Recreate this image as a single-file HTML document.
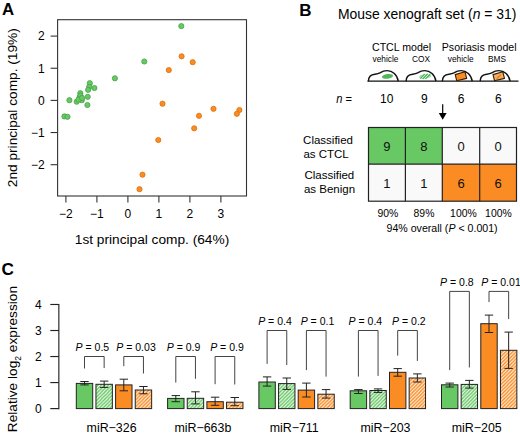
<!DOCTYPE html>
<html><head><meta charset="utf-8"><style>
html,body{margin:0;padding:0;background:#fff;overflow:hidden;}
svg{display:block;font-family:"Liberation Sans", sans-serif;}
</style></head><body>
<svg width="520" height="433" viewBox="0 0 520 433">
<defs>
<pattern id="hg" patternUnits="userSpaceOnUse" width="3.5" height="3.5">
<rect width="3.5" height="3.5" fill="#fff"/>
<path d="M-0.875,0.875 L0.875,-0.875 M0,3.5 L3.5,0 M2.625,4.375 L4.375,2.625" stroke="#68C864" stroke-width="1.4"/>
</pattern>
<pattern id="ho" patternUnits="userSpaceOnUse" width="3.5" height="3.5">
<rect width="3.5" height="3.5" fill="#fff"/>
<path d="M-0.875,0.875 L0.875,-0.875 M0,3.5 L3.5,0 M2.625,4.375 L4.375,2.625" stroke="#FA8C23" stroke-width="1.45"/>
</pattern>
</defs>
<rect width="520" height="433" fill="#fff"/>
<text x="1.9" y="15.3" font-size="16.8" text-anchor="start" font-weight="bold" fill="#000" >A</text>
<rect x="57.6" y="19.7" width="188.9" height="176.3" fill="none" stroke="#333" stroke-width="1.1"/>
<line x1="50.6" y1="164.70" x2="57.6" y2="164.70" stroke="#333" stroke-width="1.1"/>
<text x="44.6" y="169.0" font-size="12" text-anchor="end" font-weight="normal" fill="#000" >&#8722;2</text>
<line x1="50.6" y1="132.55" x2="57.6" y2="132.55" stroke="#333" stroke-width="1.1"/>
<text x="44.6" y="136.85000000000002" font-size="12" text-anchor="end" font-weight="normal" fill="#000" >&#8722;1</text>
<line x1="50.6" y1="100.40" x2="57.6" y2="100.40" stroke="#333" stroke-width="1.1"/>
<text x="44.6" y="104.7" font-size="12" text-anchor="end" font-weight="normal" fill="#000" >0</text>
<line x1="50.6" y1="68.25" x2="57.6" y2="68.25" stroke="#333" stroke-width="1.1"/>
<text x="44.6" y="72.55" font-size="12" text-anchor="end" font-weight="normal" fill="#000" >1</text>
<line x1="50.6" y1="36.10" x2="57.6" y2="36.10" stroke="#333" stroke-width="1.1"/>
<text x="44.6" y="40.400000000000006" font-size="12" text-anchor="end" font-weight="normal" fill="#000" >2</text>
<line x1="65.90" y1="196" x2="65.90" y2="202.5" stroke="#333" stroke-width="1.1"/>
<text x="65.9" y="218.4" font-size="12" text-anchor="middle" font-weight="normal" fill="#000" >&#8722;2</text>
<line x1="96.90" y1="196" x2="96.90" y2="202.5" stroke="#333" stroke-width="1.1"/>
<text x="96.9" y="218.4" font-size="12" text-anchor="middle" font-weight="normal" fill="#000" >&#8722;1</text>
<line x1="127.90" y1="196" x2="127.90" y2="202.5" stroke="#333" stroke-width="1.1"/>
<text x="127.9" y="218.4" font-size="12" text-anchor="middle" font-weight="normal" fill="#000" >0</text>
<line x1="158.90" y1="196" x2="158.90" y2="202.5" stroke="#333" stroke-width="1.1"/>
<text x="158.9" y="218.4" font-size="12" text-anchor="middle" font-weight="normal" fill="#000" >1</text>
<line x1="189.90" y1="196" x2="189.90" y2="202.5" stroke="#333" stroke-width="1.1"/>
<text x="189.9" y="218.4" font-size="12" text-anchor="middle" font-weight="normal" fill="#000" >2</text>
<line x1="220.90" y1="196" x2="220.90" y2="202.5" stroke="#333" stroke-width="1.1"/>
<text x="220.9" y="218.4" font-size="12" text-anchor="middle" font-weight="normal" fill="#000" >3</text>
<text x="152.0" y="244" font-size="13.7" text-anchor="middle" font-weight="normal" fill="#000" >1st principal comp. (64%)</text>
<text x="0" y="0" font-size="13.7" text-anchor="middle" transform="translate(16.9,107.7) rotate(-90)">2nd principal comp. (19%)</text>
<circle cx="181.3" cy="26.1" r="2.6" fill="#68C864" stroke="#45a349" stroke-width="0.8"/>
<circle cx="144.3" cy="61.5" r="2.6" fill="#68C864" stroke="#45a349" stroke-width="0.8"/>
<circle cx="114.9" cy="78.3" r="2.6" fill="#68C864" stroke="#45a349" stroke-width="0.8"/>
<circle cx="69.4" cy="100.2" r="2.6" fill="#68C864" stroke="#45a349" stroke-width="0.8"/>
<circle cx="64.4" cy="116.4" r="2.6" fill="#68C864" stroke="#45a349" stroke-width="0.8"/>
<circle cx="67.5" cy="116.8" r="2.6" fill="#68C864" stroke="#45a349" stroke-width="0.8"/>
<circle cx="89.8" cy="83.2" r="2.6" fill="#68C864" stroke="#45a349" stroke-width="0.8"/>
<circle cx="94.4" cy="88" r="2.6" fill="#68C864" stroke="#45a349" stroke-width="0.8"/>
<circle cx="89.2" cy="86.9" r="2.6" fill="#68C864" stroke="#45a349" stroke-width="0.8"/>
<circle cx="88.1" cy="89.8" r="2.6" fill="#68C864" stroke="#45a349" stroke-width="0.8"/>
<circle cx="80.3" cy="93.2" r="2.6" fill="#68C864" stroke="#45a349" stroke-width="0.8"/>
<circle cx="87.7" cy="96.8" r="2.6" fill="#68C864" stroke="#45a349" stroke-width="0.8"/>
<circle cx="79.6" cy="97.2" r="2.6" fill="#68C864" stroke="#45a349" stroke-width="0.8"/>
<circle cx="81.8" cy="100.2" r="2.6" fill="#68C864" stroke="#45a349" stroke-width="0.8"/>
<circle cx="76.7" cy="101.7" r="2.6" fill="#68C864" stroke="#45a349" stroke-width="0.8"/>
<circle cx="87.4" cy="105" r="2.6" fill="#68C864" stroke="#45a349" stroke-width="0.8"/>
<circle cx="80.5" cy="95.5" r="2.6" fill="#68C864" stroke="#45a349" stroke-width="0.8"/>
<circle cx="78.5" cy="99.5" r="2.6" fill="#68C864" stroke="#45a349" stroke-width="0.8"/>
<circle cx="82" cy="98" r="2.6" fill="#68C864" stroke="#45a349" stroke-width="0.8"/>
<circle cx="181.6" cy="56.3" r="2.6" fill="#FA8C23" stroke="#d9720f" stroke-width="0.8"/>
<circle cx="192.7" cy="62.2" r="2.6" fill="#FA8C23" stroke="#d9720f" stroke-width="0.8"/>
<circle cx="168.8" cy="70.1" r="2.6" fill="#FA8C23" stroke="#d9720f" stroke-width="0.8"/>
<circle cx="162.5" cy="103.7" r="2.6" fill="#FA8C23" stroke="#d9720f" stroke-width="0.8"/>
<circle cx="213.5" cy="108.8" r="2.6" fill="#FA8C23" stroke="#d9720f" stroke-width="0.8"/>
<circle cx="199" cy="115.8" r="2.6" fill="#FA8C23" stroke="#d9720f" stroke-width="0.8"/>
<circle cx="194.2" cy="128.3" r="2.6" fill="#FA8C23" stroke="#d9720f" stroke-width="0.8"/>
<circle cx="239.4" cy="110" r="2.6" fill="#FA8C23" stroke="#d9720f" stroke-width="0.8"/>
<circle cx="236.9" cy="113.8" r="2.6" fill="#FA8C23" stroke="#d9720f" stroke-width="0.8"/>
<circle cx="158.3" cy="140" r="2.6" fill="#FA8C23" stroke="#d9720f" stroke-width="0.8"/>
<circle cx="142.5" cy="174.7" r="2.6" fill="#FA8C23" stroke="#d9720f" stroke-width="0.8"/>
<circle cx="139.5" cy="189.2" r="2.6" fill="#FA8C23" stroke="#d9720f" stroke-width="0.8"/>
<text x="299.3" y="15.5" font-size="17" text-anchor="start" font-weight="bold" fill="#000" >B</text>
<text x="337.9" y="19.2" font-size="13.95">Mouse xenograft set (<tspan font-style="italic">n</tspan> = 31)</text>
<text x="372" y="50.8" font-size="10.6" text-anchor="start" font-weight="normal" fill="#000" >CTCL model</text>
<text x="441.8" y="50.8" font-size="10.6" text-anchor="start" font-weight="normal" fill="#000" >Psoriasis model</text>
<text x="372.6" y="61.9" font-size="8.3" text-anchor="start" font-weight="normal" fill="#000" >vehicle</text>
<text x="412" y="61.9" font-size="8.3" text-anchor="start" font-weight="normal" fill="#000" >COX</text>
<text x="447.8" y="61.9" font-size="8.3" text-anchor="start" font-weight="normal" fill="#000" >vehicle</text>
<text x="488" y="61.9" font-size="8.3" text-anchor="start" font-weight="normal" fill="#000" >BMS</text>
<line x1="367.5" y1="81.2" x2="518.5" y2="81.2" stroke="#111" stroke-width="1.3"/>
<ellipse cx="387.50" cy="76.40" rx="5.6" ry="2.3" fill="#4DB85A" transform="rotate(-8 387.50 76.40)"/>
<path d="M368.40,81.20 C368.40,77.20 370.40,74.60 375.00,74.20 C376.90,74.00 378.40,73.80 379.90,72.90 C381.90,71.60 383.90,70.60 387.10,70.60 C392.40,70.60 397.40,74.70 398.20,81.20" fill="none" stroke="#111" stroke-width="1.45"/>
<clipPath id="clipE406"><ellipse cx="425.20" cy="76.40" rx="6" ry="2.6" transform="rotate(-12 425.20 76.40)"/></clipPath>
<g clip-path="url(#clipE406)">
<line x1="414.20" y1="79.20" x2="419.40" y2="73.60" stroke="#4DB85A" stroke-width="1.5"/>
<line x1="417.00" y1="79.20" x2="422.20" y2="73.60" stroke="#4DB85A" stroke-width="1.5"/>
<line x1="419.80" y1="79.20" x2="425.00" y2="73.60" stroke="#4DB85A" stroke-width="1.5"/>
<line x1="422.60" y1="79.20" x2="427.80" y2="73.60" stroke="#4DB85A" stroke-width="1.5"/>
<line x1="425.40" y1="79.20" x2="430.60" y2="73.60" stroke="#4DB85A" stroke-width="1.5"/>
<line x1="428.20" y1="79.20" x2="433.40" y2="73.60" stroke="#4DB85A" stroke-width="1.5"/>
<line x1="431.00" y1="79.20" x2="436.20" y2="73.60" stroke="#4DB85A" stroke-width="1.5"/>
</g>
<path d="M406.10,81.20 C406.10,77.20 408.10,74.60 412.70,74.20 C414.60,74.00 416.10,73.80 417.60,72.90 C419.60,71.60 421.60,70.60 424.80,70.60 C430.10,70.60 435.10,74.70 435.90,81.20" fill="none" stroke="#111" stroke-width="1.45"/>
<polygon points="455.20,74.60 465.00,71.80 466.70,78.40 456.70,80.70" fill="#FA8C23" stroke="#3a1e00" stroke-width="1.1" stroke-linejoin="round"/>
<path d="M442.40,81.20 C442.40,77.20 444.40,74.60 449.00,74.20 C450.90,74.00 452.40,73.80 453.90,72.90 C455.90,71.60 457.90,70.60 461.10,70.60 C466.40,70.60 471.40,74.70 472.20,81.20" fill="none" stroke="#111" stroke-width="1.45"/>
<polygon points="493.00,74.60 502.80,71.80 504.50,78.40 494.50,80.70" fill="#F5AE62" stroke="#3a1e00" stroke-width="1.1" stroke-linejoin="round"/>
<line x1="496.70" y1="78.60" x2="501.00" y2="74.60" stroke="#E07A10" stroke-width="1.2"/>
<path d="M480.20,81.20 C480.20,77.20 482.20,74.60 486.80,74.20 C488.70,74.00 490.20,73.80 491.70,72.90 C493.70,71.60 495.70,70.60 498.90,70.60 C504.20,70.60 509.20,74.70 510.00,81.20" fill="none" stroke="#111" stroke-width="1.45"/>
<text x="336.2" y="102.7" font-size="12" textLength="15.8" lengthAdjust="spacingAndGlyphs"><tspan font-style="italic">n</tspan> =</text>
<text x="386.7" y="102.7" font-size="12" text-anchor="middle" font-weight="normal" fill="#000" >10</text>
<text x="424.3" y="102.7" font-size="12" text-anchor="middle" font-weight="normal" fill="#000" >9</text>
<text x="461.2" y="102.7" font-size="12" text-anchor="middle" font-weight="normal" fill="#000" >6</text>
<text x="498.4" y="102.7" font-size="12" text-anchor="middle" font-weight="normal" fill="#000" >6</text>
<line x1="442.7" y1="104.2" x2="442.7" y2="114" stroke="#000" stroke-width="1.2"/>
<polygon points="438.8,112.9 446.6,112.9 442.7,119.8" fill="#000"/>
<rect x="368.5" y="127.5" width="36.9" height="36.7" fill="#68C864"/>
<rect x="405.4" y="127.5" width="36.9" height="36.7" fill="#68C864"/>
<rect x="442.3" y="127.5" width="37.4" height="36.7" fill="#f9f9f9"/>
<rect x="479.7" y="127.5" width="36.8" height="36.7" fill="#f9f9f9"/>
<rect x="368.5" y="164.2" width="36.9" height="37.0" fill="#f9f9f9"/>
<rect x="405.4" y="164.2" width="36.9" height="37.0" fill="#f9f9f9"/>
<rect x="442.3" y="164.2" width="37.4" height="37.0" fill="#FA8C23"/>
<rect x="479.7" y="164.2" width="36.8" height="37.0" fill="#FA8C23"/>
<text x="386.9" y="150.7" font-size="13" text-anchor="middle" font-weight="normal" fill="#111" >9</text>
<text x="423.9" y="150.7" font-size="13" text-anchor="middle" font-weight="normal" fill="#111" >8</text>
<text x="461.0" y="150.7" font-size="13" text-anchor="middle" font-weight="normal" fill="#111" >0</text>
<text x="498.1" y="150.7" font-size="13" text-anchor="middle" font-weight="normal" fill="#111" >0</text>
<text x="386.9" y="187.5" font-size="13" text-anchor="middle" font-weight="normal" fill="#111" >1</text>
<text x="423.9" y="187.5" font-size="13" text-anchor="middle" font-weight="normal" fill="#111" >1</text>
<text x="461.0" y="187.5" font-size="13" text-anchor="middle" font-weight="normal" fill="#111" >6</text>
<text x="498.1" y="187.5" font-size="13" text-anchor="middle" font-weight="normal" fill="#111" >6</text>
<rect x="368.5" y="127.5" width="148.0" height="73.7" fill="none" stroke="#222" stroke-width="1.2"/>
<line x1="405.4" y1="127.5" x2="405.4" y2="201.2" stroke="#222" stroke-width="1.2"/>
<line x1="442.3" y1="127.5" x2="442.3" y2="201.2" stroke="#222" stroke-width="1.2"/>
<line x1="479.7" y1="127.5" x2="479.7" y2="201.2" stroke="#222" stroke-width="1.2"/>
<line x1="368.5" y1="164.2" x2="516.5" y2="164.2" stroke="#222" stroke-width="1.2"/>
<text x="303.1" y="143.7" font-size="11.5" text-anchor="start" font-weight="normal" fill="#000" >Classified</text>
<text x="303.4" y="157.5" font-size="11.5" text-anchor="start" font-weight="normal" fill="#000" >as CTCL</text>
<text x="304.4" y="179.3" font-size="11.5" text-anchor="start" font-weight="normal" fill="#000" >Classified</text>
<text x="303.9" y="193.3" font-size="11.5" text-anchor="start" font-weight="normal" fill="#000" >as Benign</text>
<text x="387.9" y="216.6" font-size="10.4" text-anchor="middle" font-weight="normal" fill="#000" >90%</text>
<text x="424.0" y="216.6" font-size="10.4" text-anchor="middle" font-weight="normal" fill="#000" >89%</text>
<text x="463.4" y="216.6" font-size="10.4" text-anchor="middle" font-weight="normal" fill="#000" >100%</text>
<text x="498.4" y="216.6" font-size="10.4" text-anchor="middle" font-weight="normal" fill="#000" >100%</text>
<text x="442.1" y="231.8" font-size="10.6" text-anchor="middle">94% overall (<tspan font-style="italic">P</tspan> &lt; 0.001)</text>
<text x="1.6" y="274.8" font-size="17.2" text-anchor="start" font-weight="bold" fill="#000" >C</text>
<line x1="58.85" y1="303.93" x2="58.85" y2="409.15000000000003" stroke="#222" stroke-width="1.15"/>
<line x1="50.3" y1="408.60" x2="58.85" y2="408.60" stroke="#222" stroke-width="1.15"/>
<text x="41.8" y="413.00" font-size="12" text-anchor="end" font-weight="normal" fill="#000" >0</text>
<line x1="50.3" y1="382.57" x2="58.85" y2="382.57" stroke="#222" stroke-width="1.15"/>
<text x="41.8" y="386.97" font-size="12" text-anchor="end" font-weight="normal" fill="#000" >1</text>
<line x1="50.3" y1="356.54" x2="58.85" y2="356.54" stroke="#222" stroke-width="1.15"/>
<text x="41.8" y="360.94" font-size="12" text-anchor="end" font-weight="normal" fill="#000" >2</text>
<line x1="50.3" y1="330.51" x2="58.85" y2="330.51" stroke="#222" stroke-width="1.15"/>
<text x="41.8" y="334.91" font-size="12" text-anchor="end" font-weight="normal" fill="#000" >3</text>
<line x1="50.3" y1="304.48" x2="58.85" y2="304.48" stroke="#222" stroke-width="1.15"/>
<text x="41.8" y="308.88" font-size="12" text-anchor="end" font-weight="normal" fill="#000" >4</text>
<text x="0" y="0" font-size="13.7" text-anchor="middle" transform="translate(16.9,359.1) rotate(-90)">Relative log<tspan font-size="8.6" dy="4.3">2</tspan><tspan dy="-4.3"> expression</tspan></text>
<rect x="76.30" y="383.4" width="16.4" height="25.20" fill="#68C864" stroke="#222" stroke-width="1"/>
<path d="M80.30,381.5H88.70M84.50,381.5V384.9M80.30,384.9H88.70" stroke="#222" stroke-width="1" fill="none"/>
<rect x="95.95" y="384.3" width="16.4" height="24.30" fill="url(#hg)" stroke="#222" stroke-width="1"/>
<path d="M99.95,381.1H108.35M104.15,381.1V387.4M99.95,387.4H108.35" stroke="#222" stroke-width="1" fill="none"/>
<rect x="115.60" y="384.9" width="16.4" height="23.70" fill="#FA8C23" stroke="#222" stroke-width="1"/>
<path d="M119.60,379.2H128.00M123.80,379.2V390.8M119.60,390.8H128.00" stroke="#222" stroke-width="1" fill="none"/>
<rect x="135.25" y="390" width="16.4" height="18.60" fill="url(#ho)" stroke="#222" stroke-width="1"/>
<path d="M139.25,386.5H147.65M143.45,386.5V393.8M139.25,393.8H147.65" stroke="#222" stroke-width="1" fill="none"/>
<path d="M84.50,368.5V356.5H104.15V368.1" stroke="#444" stroke-width="1" fill="none"/>
<text x="75.60" y="351.4" font-size="10.5"><tspan font-style="italic">P</tspan> = 0.5</text>
<path d="M123.80,366.2V356.5H143.45V373.5" stroke="#444" stroke-width="1" fill="none"/>
<text x="116.30" y="351.4" font-size="10.5"><tspan font-style="italic">P</tspan> = 0.03</text>
<text x="111.57" y="431.5" font-size="12.4" text-anchor="middle" font-weight="normal" fill="#000" >miR&#8722;326</text>
<rect x="167.60" y="398.4" width="16.4" height="10.20" fill="#68C864" stroke="#222" stroke-width="1"/>
<path d="M171.60,395.6H180.00M175.80,395.6V401.7M171.60,401.7H180.00" stroke="#222" stroke-width="1" fill="none"/>
<rect x="187.25" y="398.3" width="16.4" height="10.30" fill="url(#hg)" stroke="#222" stroke-width="1"/>
<path d="M191.25,391.8H199.65M195.45,391.8V403.9M191.25,403.9H199.65" stroke="#222" stroke-width="1" fill="none"/>
<rect x="206.90" y="401.7" width="16.4" height="6.90" fill="#FA8C23" stroke="#222" stroke-width="1"/>
<path d="M210.90,397.2H219.30M215.10,397.2V405.3M210.90,405.3H219.30" stroke="#222" stroke-width="1" fill="none"/>
<rect x="226.55" y="402.2" width="16.4" height="6.40" fill="url(#ho)" stroke="#222" stroke-width="1"/>
<path d="M230.55,397.5H238.95M234.75,397.5V405.7M230.55,405.7H238.95" stroke="#222" stroke-width="1" fill="none"/>
<path d="M175.80,382.6V356.5H195.45V378.8" stroke="#444" stroke-width="1" fill="none"/>
<text x="166.80" y="351.4" font-size="10.5"><tspan font-style="italic">P</tspan> = 0.9</text>
<path d="M215.10,384.2V356.5H234.75V384.5" stroke="#444" stroke-width="1" fill="none"/>
<text x="210.20" y="351.4" font-size="10.5"><tspan font-style="italic">P</tspan> = 0.9</text>
<text x="202.88" y="431.5" font-size="12.4" text-anchor="middle" font-weight="normal" fill="#000" >miR&#8722;663b</text>
<rect x="258.90" y="382" width="16.4" height="26.60" fill="#68C864" stroke="#222" stroke-width="1"/>
<path d="M262.90,376.9H271.30M267.10,376.9V386.1M262.90,386.1H271.30" stroke="#222" stroke-width="1" fill="none"/>
<rect x="278.55" y="383.6" width="16.4" height="25.00" fill="url(#hg)" stroke="#222" stroke-width="1"/>
<path d="M282.55,378H290.95M286.75,378V389.4M282.55,389.4H290.95" stroke="#222" stroke-width="1" fill="none"/>
<rect x="298.20" y="390.1" width="16.4" height="18.50" fill="#FA8C23" stroke="#222" stroke-width="1"/>
<path d="M302.20,383.1H310.60M306.40,383.1V397M302.20,397H310.60" stroke="#222" stroke-width="1" fill="none"/>
<rect x="317.85" y="394.2" width="16.4" height="14.40" fill="url(#ho)" stroke="#222" stroke-width="1"/>
<path d="M321.85,389.6H330.25M326.05,389.6V398.1M321.85,398.1H330.25" stroke="#222" stroke-width="1" fill="none"/>
<path d="M267.10,363.9V330.5H286.75V365.0" stroke="#444" stroke-width="1" fill="none"/>
<text x="258.20" y="325.4" font-size="10.5"><tspan font-style="italic">P</tspan> = 0.4</text>
<path d="M306.40,370.1V330.5H326.05V376.6" stroke="#444" stroke-width="1" fill="none"/>
<text x="300.70" y="325.4" font-size="10.5"><tspan font-style="italic">P</tspan> = 0.1</text>
<text x="294.18" y="431.5" font-size="12.4" text-anchor="middle" font-weight="normal" fill="#000" >miR&#8722;711</text>
<rect x="350.20" y="390.8" width="16.4" height="17.80" fill="#68C864" stroke="#222" stroke-width="1"/>
<path d="M354.20,389.6H362.60M358.40,389.6V393.5M354.20,393.5H362.60" stroke="#222" stroke-width="1" fill="none"/>
<rect x="369.85" y="390.5" width="16.4" height="18.10" fill="url(#hg)" stroke="#222" stroke-width="1"/>
<path d="M373.85,388.9H382.25M378.05,388.9V392.4M373.85,392.4H382.25" stroke="#222" stroke-width="1" fill="none"/>
<rect x="389.50" y="372.3" width="16.4" height="36.30" fill="#FA8C23" stroke="#222" stroke-width="1"/>
<path d="M393.50,368.6H401.90M397.70,368.6V376.2M393.50,376.2H401.90" stroke="#222" stroke-width="1" fill="none"/>
<rect x="409.15" y="378" width="16.4" height="30.60" fill="url(#ho)" stroke="#222" stroke-width="1"/>
<path d="M413.15,373.9H421.55M417.35,373.9V382M413.15,382H421.55" stroke="#222" stroke-width="1" fill="none"/>
<path d="M358.40,376.6V330.5H378.05V375.9" stroke="#444" stroke-width="1" fill="none"/>
<text x="348.60" y="325.4" font-size="10.5"><tspan font-style="italic">P</tspan> = 0.4</text>
<path d="M397.70,355.6V330.5H417.35V360.9" stroke="#444" stroke-width="1" fill="none"/>
<text x="392.10" y="325.4" font-size="10.5"><tspan font-style="italic">P</tspan> = 0.2</text>
<text x="385.48" y="431.5" font-size="12.4" text-anchor="middle" font-weight="normal" fill="#000" >miR&#8722;203</text>
<rect x="441.50" y="384.8" width="16.4" height="23.80" fill="#68C864" stroke="#222" stroke-width="1"/>
<path d="M445.50,383.1H453.90M449.70,383.1V387M445.50,387H453.90" stroke="#222" stroke-width="1" fill="none"/>
<rect x="461.15" y="384.4" width="16.4" height="24.20" fill="url(#hg)" stroke="#222" stroke-width="1"/>
<path d="M465.15,380.4H473.55M469.35,380.4V388.1M465.15,388.1H473.55" stroke="#222" stroke-width="1" fill="none"/>
<rect x="480.80" y="323.7" width="16.4" height="84.90" fill="#FA8C23" stroke="#222" stroke-width="1"/>
<path d="M484.80,315.1H493.20M489.00,315.1V332.5M484.80,332.5H493.20" stroke="#222" stroke-width="1" fill="none"/>
<rect x="500.45" y="350.3" width="16.4" height="58.30" fill="url(#ho)" stroke="#222" stroke-width="1"/>
<path d="M504.45,332.1H512.85M508.65,332.1V368.4M504.45,368.4H512.85" stroke="#222" stroke-width="1" fill="none"/>
<path d="M449.70,370.1V291.4H469.35V367.4" stroke="#444" stroke-width="1" fill="none"/>
<text x="440.10" y="286.3" font-size="10.5"><tspan font-style="italic">P</tspan> = 0.8</text>
<path d="M489.00,302.1V291.4H508.65V319.1" stroke="#444" stroke-width="1" fill="none"/>
<text x="481.30" y="286.3" font-size="10.5"><tspan font-style="italic">P</tspan> = 0.01</text>
<text x="476.78" y="431.5" font-size="12.4" text-anchor="middle" font-weight="normal" fill="#000" >miR&#8722;205</text>
</svg>
</body></html>
